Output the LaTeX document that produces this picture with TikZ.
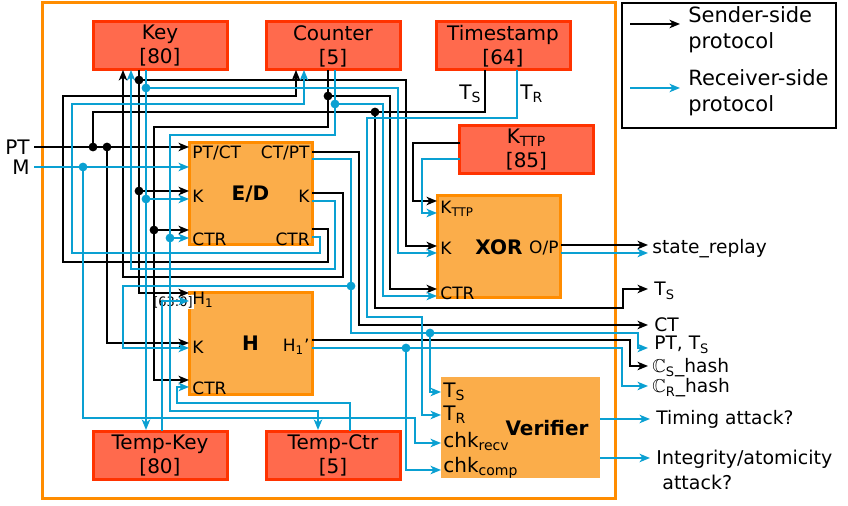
\documentclass[tikz,border=0pt]{standalone}
\usepackage{amsmath,amssymb}
\usepackage{fontspec}
\setmainfont{DejaVu Sans}
\usepackage{xcolor}
\usepackage{tikz}
\usetikzlibrary{arrows.meta, calc, positioning}

\definecolor{regred}{HTML}{FF6A4D}
\definecolor{regedge}{HTML}{FF3300}
\definecolor{unitfill}{HTML}{FBAD4A}
\definecolor{unitedge}{HTML}{FF8C00}
\definecolor{rcvblue}{HTML}{0AA0D2}

\begin{document}
\begin{tikzpicture}[x=0.5pt, y=-0.5pt,
  >={Stealth[length=5.2pt, width=4.2pt, inset=1.4pt]},
  reg/.style={draw=regedge, fill=regred, line width=1.5pt, minimum width=67pt, minimum height=24pt,
    inner sep=0pt, align=center, font=\fontsize{10}{12}\selectfont},
  unit/.style={draw=unitedge, fill=unitfill, line width=1.5pt, minimum width=61.5pt, minimum height=51pt,
    inner sep=0pt, font=\fontsize{10}{12}\selectfont\bfseries},
  port/.style={inner sep=0pt, font=\fontsize{8.5}{10}\selectfont},
  vport/.style={inner sep=0pt, anchor=west, font=\fontsize{10}{12}\selectfont},
  outlbl/.style={inner sep=0pt, anchor=west, font=\fontsize{9.3}{11}\selectfont},
  snd/.style={line width=1.1pt, black},
  rcv/.style={line width=1.1pt, rcvblue},
]
\useasboundingbox (0,0) rectangle (848,506);

% frame and legend
\draw[unitedge, line width=1.5pt] (42,3) rectangle (615,499);
\draw[line width=0.7pt] (622,3) rectangle (836,128);
\node[anchor=west, inner sep=0pt, align=left, font=\fontsize{10.5}{13}\selectfont] (lgS) at (688,30) {Sender-side\\protocol};
\node[anchor=west, inner sep=0pt, align=left, font=\fontsize{10.5}{13}\selectfont] (lgR) at (688,93) {Receiver-side\\protocol};
\draw[snd,->] (630,24) -- (680,24);
\draw[rcv,->] (630,88) -- (680,88);

% registers
\node[reg] (key)  at (160,46)      {Key\\{}[80]};
\node[reg] (ctr)  at (333,46)      {Counter\\{}[5]};
\node[reg] (ts)   at (503,46)      {Timestamp\\{}[64]};
\node[reg] (kttp) at (526.5,149.5) {K\textsubscript{TTP}\\{}[85]};
\node[reg] (tkey) at (160,455.5)   {Temp-Key\\{}[80]};
\node[reg] (tctr) at (333,455.5)   {Temp-Ctr\\{}[5]};

% units
\node[unit] (ed)  at (250.5,194)   {E/D};
\node[unit] (xor) at (499,247)     {XOR};
\node[unit] (h)   at (250.5,343.5) {H};
\node[unit, draw=none, minimum width=79.5pt, minimum height=50.5pt] (ver) at (520.5,427.5) {};
\node[font=\fontsize{10}{12}\selectfont\bfseries, inner sep=0pt] (verlbl) at (547,428) {Verifier};

% port labels
\node[port, anchor=west] (edpt) at (192,153) {PT/CT};
\node[port, anchor=east] (edct) at (310,153) {CT/PT};
\node[port, anchor=west] (edk)  at (192,196) {K};
\node[port, anchor=east] (edko) at (310,196) {K};
\node[port, anchor=west] (edc)  at (192,239) {CTR};
\node[port, anchor=east] (edco) at (310,239) {CTR};
\node[port, anchor=west] (xort) at (440,209) {K\textsubscript{TTP}};
\node[port, anchor=west] (xork) at (440,248) {K};
\node[port, anchor=west] (xorc) at (440,293) {CTR};
\node[port, anchor=east] (xoro) at (559,248) {O/P};
\node[port, anchor=west] (hh)   at (192,300) {H\textsubscript{1}};
\node[port, anchor=west] (hk)   at (192,347) {K};
\node[port, anchor=west] (hc)   at (192,388) {CTR};
\node[port, anchor=east] (ho)   at (310,347) {H\textsubscript{1}'};
\node[fill=white, inner sep=0.6pt, font=\fontsize{6.5}{7}\selectfont] (slice) at (173,302) {[63:0]};
\node[vport] (vts)   at (443,392) {T\textsubscript{S}};
\node[vport] (vtr)   at (443,415) {T\textsubscript{R}};
\node[vport] (vrecv) at (443,442) {chk\textsubscript{recv}};
\node[vport] (vcomp) at (443,468) {chk\textsubscript{comp}};
\node[inner sep=0pt, anchor=east, font=\fontsize{10}{12}\selectfont] (tsl) at (482,94) {T\textsubscript{S}};
\node[inner sep=0pt, anchor=west, font=\fontsize{10}{12}\selectfont] (trl) at (520,94) {T\textsubscript{R}};

% inputs and outputs
\node[anchor=east, inner sep=0pt, font=\fontsize{10}{12}\selectfont] (pt) at (30,147) {PT};
\node[anchor=east, inner sep=0pt, font=\fontsize{10}{12}\selectfont] (m)  at (30,167) {M};
\node[outlbl] (osr)  at (652,249) {state\_replay};
\node[outlbl] (ots)  at (654,291) {T\textsubscript{S}};
\node[outlbl] (oct)  at (654,325) {CT};
\node[outlbl] (opt)  at (654,345) {PT, T\textsubscript{S}};
\node[outlbl] (ocs)  at (652,368) {$\mathbb{C}$\textsubscript{S}\_hash};
\node[outlbl] (ocr)  at (652,388) {$\mathbb{C}$\textsubscript{R}\_hash};
\node[outlbl] (ota)  at (656,419) {Timing attack?};
\node[outlbl, align=left, font=\fontsize{9.5}{12.5}\selectfont] (oia) at (656,470) {Integrity/atomicity\\\hspace*{3pt}attack?};

% port points
\coordinate (ptin) at (34,147);   \coordinate (min) at (34,167);
\coordinate (edPT) at (189,147);  \coordinate (edM) at (189,167);
\coordinate (edK) at (189,191);   \coordinate (edKr) at (189,199);
\coordinate (edC) at (189,230);   \coordinate (edCr) at (189,238);
\coordinate (edCTo) at (312,152); \coordinate (edPTo) at (312,159);
\coordinate (edKo) at (312,193);  \coordinate (edKro) at (312,201);
\coordinate (edCo) at (312,229);  \coordinate (edCro) at (312,237);
\coordinate (keyKi) at (123,70);  \coordinate (keyRi) at (131,70);
\coordinate (keyKo) at (139,70);  \coordinate (keyRo) at (146,70);
\coordinate (ctrCi) at (296,70);  \coordinate (ctrRi) at (304,70);
\coordinate (ctrCo) at (328,70);  \coordinate (ctrRo) at (335,70);
\coordinate (tsS) at (485,70);    \coordinate (tsR) at (517,70);
\coordinate (kttpS) at (460,143); \coordinate (kttpR) at (460,159);
\coordinate (xorT) at (437,201);  \coordinate (xorTr) at (437,213);
\coordinate (xorK) at (437,246);  \coordinate (xorKr) at (437,253);
\coordinate (xorC) at (437,289);  \coordinate (xorCr) at (437,296);
\coordinate (xorO) at (561,245);  \coordinate (xorOr) at (561,253);
\coordinate (hH1) at (189,293);   \coordinate (hH1r) at (189,301);
\coordinate (hK) at (189,343);    \coordinate (hKr) at (189,348);
\coordinate (hC) at (189,380);    \coordinate (hCr) at (189,387);
\coordinate (hO) at (312,340);    \coordinate (hOr) at (312,348);
\coordinate (tkeyIn) at (146,431); \coordinate (tkeyOut) at (162,431);
\coordinate (tctrIn) at (318,431); \coordinate (tctrOut) at (350,431);
\coordinate (vTS) at (441,392);   \coordinate (vTR) at (441,415);
\coordinate (vRecv) at (441,443); \coordinate (vComp) at (441,470);
\coordinate (vO1) at (600,419);   \coordinate (vO2) at (600,458);

% sender-side wires
\draw[snd,->] (ptin) -- (edPT);
\draw[snd] (tsS) |- (93,112) -- (93,147);
\draw[snd,->] (375,112) |- (623,308) |- (648,289);
\draw[snd,->] (keyKo) |- (hH1);
\draw[snd,->] (139,80) -| (406,246) -- (xorK);
\draw[snd,->] (139,191) -- (edK);
\draw[snd,->] (ctrCo) |- (154,127) |- (hC);
\draw[snd,->] (328,96) -| (390,289) -- (xorC);
\draw[snd,->] (154,230) -- (edC);
\draw[snd,->] (107,147) |- (hK);
\draw[snd,->] (edCTo) -| (359,325) -- (648,325);
\draw[snd,->] (edKo) -| (343,277) -| (keyKi);
\draw[snd,->] (edCo) -| (328,262) -| (63,96) -| (ctrCi);
\draw[snd,->] (kttpS) -| (413,201) -- (xorT);
\draw[snd,->] (xorO) -- (648,245);
\draw[snd,->] (hO) -| (630,366) -- (648,366);

% receiver-side wires
\draw[rcv,->] (min) -- (edM);
\draw[rcv,->] (83,167) |- (415,418) |- (vRecv);
\draw[rcv,->] (tsR) |- (367,118) |- (422,317) |- (vTR);
\draw[rcv,->] (keyRo) -- ($(tkeyIn)+(0,-1)$);
\draw[rcv,->] (146,88) -| (398,253) -- (xorKr);
\draw[rcv,->] (146,199) -- (edKr);
\draw[rcv,->] (ctrRo) |- (170,135) |- (318,411) -- ($(tctrIn)+(0,-1)$);
\draw[rcv,->] (335,104) -| (383,296) -- (xorCr);
\draw[rcv,->] (170,238) -- (edCr);
\draw[rcv,->] (edPTo) -| (351,333) -| (638,348) -- (648,348);
\draw[rcv,->] (351,286) -| (123,348) -- (hKr);
\draw[rcv,->] (430,333) |- (vTS);
\draw[rcv,->] (edKro) -| (335,269) -| (keyRi);
\draw[rcv,->] (edCro) -| (320,253) -| (72,104) -| (ctrRi);
\draw[rcv,->] (kttpR) -| (422,213) -- (xorTr);
\draw[rcv,->] (xorOr) -- (648,253);
\draw[rcv,->] (tkeyOut) |- (hH1r);
\draw[rcv,->] (tctrOut) |- (177,403) |- (hCr);
\draw[rcv,->] (hOr) -| (622,386) -- (648,386);
\draw[rcv,->] (406,348) |- (vComp);
\draw[rcv,->] (vO1) -- (650,419);
\draw[rcv,->] (vO2) -- (650,458);

% junctions
\foreach \p in {(93,147),(107,147),(375,112),(139,80),(139,191),(328,96),(154,230)}
  \fill \p circle (2.2pt);
\foreach \p in {(83,167),(146,88),(146,199),(335,104),(170,238),(351,286),(430,333),(406,348)}
  \fill[rcvblue] \p circle (2.2pt);
\end{tikzpicture}
\end{document}
